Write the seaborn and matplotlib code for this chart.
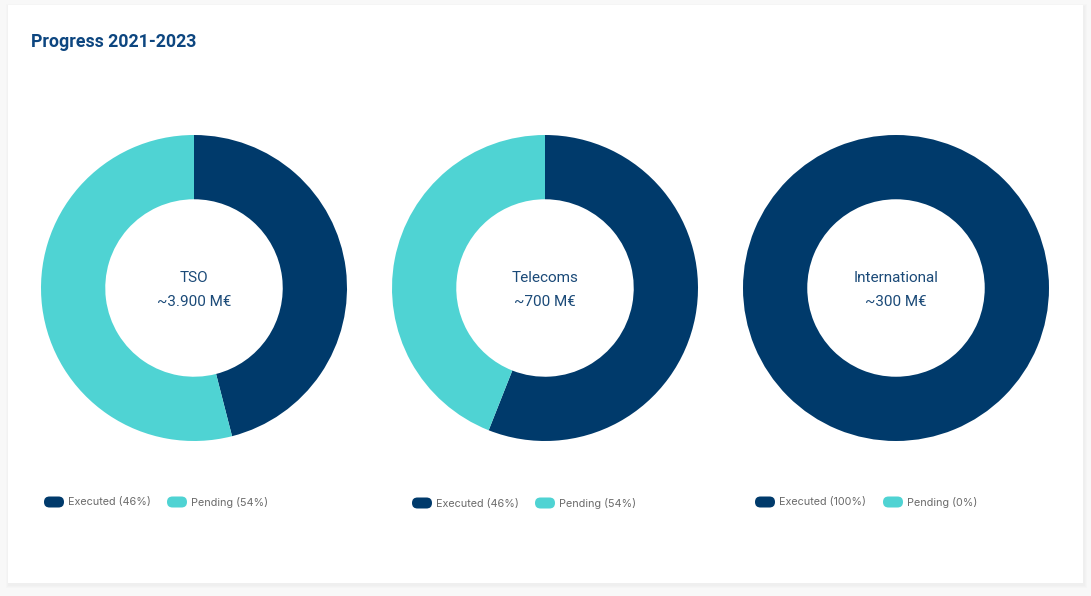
import matplotlib.pyplot as plt
import seaborn as sns
from matplotlib.patches import FancyBboxPatch, Rectangle

# data
groups = ['TSO', 'Telecoms', 'International']
totals = ['~3.900 M€', '~700 M€', '~300 M€']
executed = [46, 56, 100]   # drawn share of the ring
pending = [54, 44, 0]
executed_lbl = [46, 46, 100]  # what the legend says
pending_lbl = [54, 54, 0]

dark = '#003a6b'
teal = '#4fd3d3'
title_col = '#0d4680'
text_col = '#1b4a78'
grey = '#6b6b6b'

W, H = 1091, 596
sns.set_theme(style='white')
plt.rcParams['font.family'] = ['Roboto', 'DejaVu Sans']

fig = plt.figure(figsize=(W / 100, H / 100), dpi=100)
fig.patch.set_facecolor('#f8f8f8')

# background card in pixel coords
bg = fig.add_axes([0, 0, 1, 1], zorder=0)
bg.set_xlim(0, W)
bg.set_ylim(H, 0)
bg.axis('off')
for i, a in enumerate([0.012, 0.012, 0.012]):
    d = 3 - i
    bg.add_patch(Rectangle((8 - d + 1, 5 - d + 2), 1075 + 2 * d, 578 + 2 * d,
                           facecolor='black', alpha=a, lw=0))
bg.add_patch(Rectangle((8, 5), 1075, 578, facecolor='white', lw=0))
bg.text(31, 42, 'Progress 2021-2023', fontsize=12.8, fontweight='bold',
        color=title_col, va='center', ha='left')

centers = [194, 545, 896]
cy = 288
r = 153
legend_x = [44, 412, 755]
legend_y = [502, 503, 502]
pend_x = [167, 535, 883]

for i, g in enumerate(groups):
    cx = centers[i]
    ax = fig.add_axes([(cx - r) / W, (H - cy - r) / H, 2 * r / W, 2 * r / H], zorder=2)
    ax.pie([executed[i], pending[i]], colors=[dark, teal], startangle=90,
           counterclock=False, radius=1,
           wedgeprops=dict(width=0.42, linewidth=0))
    ax.set_xlim(-1, 1)
    ax.set_ylim(-1, 1)
    ax.axis('off')
    ax.text(0, 0.066, g, ha='center', va='center', fontsize=11, color=text_col)
    ax.text(0, -0.094, totals[i], ha='center', va='center', fontsize=11, color=text_col)

    # legend pills
    ly = legend_y[i]
    for x0, col, lbl in [(legend_x[i], dark, f'Executed ({executed_lbl[i]}%)'),
                         (pend_x[i], teal, f'Pending ({pending_lbl[i]}%)')]:
        bg.add_patch(FancyBboxPatch((x0, ly - 5.5), 20, 11,
                                    boxstyle='round,pad=0,rounding_size=5.5',
                                    facecolor=col, lw=0))
        bg.text(x0 + 24, ly + 0.5, lbl, fontsize=7.8, color=grey, va='center',
                ha='left', family=['Inter', 'DejaVu Sans'])

fig.savefig('out.png', dpi=100)
